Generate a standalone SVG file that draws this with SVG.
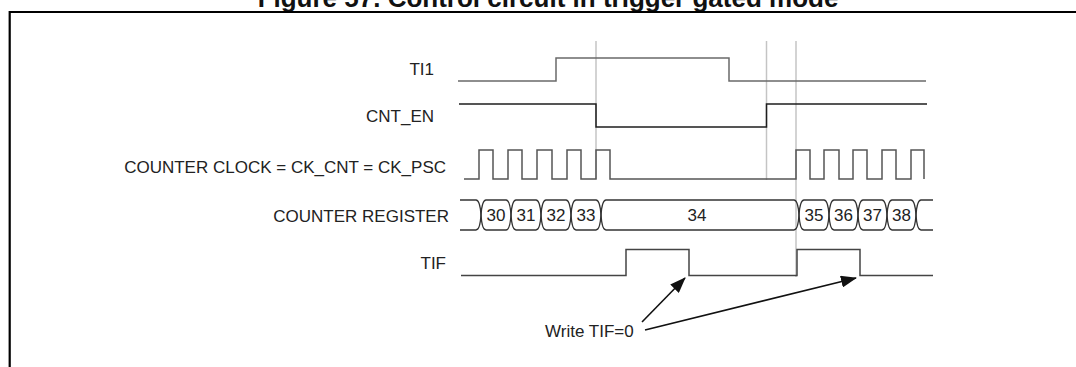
<svg xmlns="http://www.w3.org/2000/svg" width="1076" height="367" viewBox="0 0 1076 367">
<defs>
<style>
.lbl{font-family:"Liberation Sans",Arial,sans-serif;font-size:17px;fill:#222}
.num{font-family:"Liberation Sans",Arial,sans-serif;font-size:17px;fill:#222;text-anchor:middle}
.title{font-family:"Liberation Sans",Arial,sans-serif;font-size:26px;font-weight:bold;fill:#111;text-anchor:middle}
.wave{fill:none;stroke-width:1.5}
.guide{stroke:#c4c4c4;stroke-width:1.5}
.bus{fill:none;stroke:#333;stroke-width:1.3}
.arr{stroke:#111;stroke-width:1.6;fill:none}
</style>
<marker id="ah" viewBox="0 0 16 12" refX="15" refY="6" markerWidth="16" markerHeight="12" markerUnits="userSpaceOnUse" orient="auto">
<path d="M0,0 L16,6 L0,12 z" fill="#111"/>
</marker>
</defs>
<rect width="1076" height="367" fill="#fff"/>
<text class="title" x="548" y="7">Figure 57. Control circuit in trigger gated mode</text>
<path d="M9.7,367 V12 H1076" fill="none" stroke="#000" stroke-width="2.2"/>

<g id="guides">
<line class="guide" x1="596" y1="41" x2="596" y2="179"/>
<line class="guide" x1="766.5" y1="41" x2="766.5" y2="180"/>
<line class="guide" x1="796" y1="41" x2="796" y2="277"/>
</g>

<g id="ti1">
<text class="lbl" x="434" y="75" text-anchor="end">TI1</text>
<path class="wave" stroke="#6a6a6a" d="M458,81 H556 V58 H729 V81 H926"/>
</g>

<g id="cnt_en">
<text class="lbl" x="434" y="121.5" text-anchor="end">CNT_EN</text>
<path class="wave" stroke="#1e1e1e" d="M459,104 H596 V127 H766.5 V104 H927"/>
</g>

<g id="clock">
<text class="lbl" x="446" y="173" text-anchor="end">COUNTER CLOCK = CK_CNT = CK_PSC</text>
<path class="wave" stroke="#555" d="M464,179 H479 V150 H493 V179 H508 V150 H522 V179 H537 V150 H552 V179 H567 V150 H581 V179 H596 V150 H610 V179 H796 V150 H810 V179 H824 V150 H839 V179 H853 V150 H867 V179 H882 V150 H896 V179 H911 V150 H924 V179"/>
</g>

<g id="register">
<text class="lbl" x="449" y="222" text-anchor="end">COUNTER REGISTER</text>
<path class="bus" d="M460,200 H476 Q480,200 481,215 Q482,230 486,230 H506 Q510,230 511,215 Q512,200 516,200 H536 Q540,200 541,215 Q542,230 546,230 H566 Q570,230 571,215 Q572,200 576,200 H596 Q600,200 601,215 Q602,230 606,230 H794 Q798,230 799,215 Q800,200 804,200 H824 Q828,200 829,215 Q830,230 834,230 H853 Q857,230 858,215 Q859,200 863,200 H882 Q886,200 887,215 Q888,230 892,230 H911 Q915,230 916,215 Q917,200 921,200 H933"/>
<path class="bus" d="M460,230 H476 Q480,230 481,215 Q482,200 486,200 H506 Q510,200 511,215 Q512,230 516,230 H536 Q540,230 541,215 Q542,200 546,200 H566 Q570,200 571,215 Q572,230 576,230 H596 Q600,230 601,215 Q602,200 606,200 H794 Q798,200 799,215 Q800,230 804,230 H824 Q828,230 829,215 Q830,200 834,200 H853 Q857,200 858,215 Q859,230 863,230 H882 Q886,230 887,215 Q888,200 892,200 H911 Q915,200 916,215 Q917,230 921,230 H933"/>
<text class="num" x="496" y="221">30</text>
<text class="num" x="526" y="221">31</text>
<text class="num" x="556" y="221">32</text>
<text class="num" x="586" y="221">33</text>
<text class="num" x="697" y="221">34</text>
<text class="num" x="814" y="221">35</text>
<text class="num" x="843.5" y="221">36</text>
<text class="num" x="872.5" y="221">37</text>
<text class="num" x="901.5" y="221">38</text>
</g>

<g id="tif">
<text class="lbl" x="446" y="269" text-anchor="end">TIF</text>
<path class="wave" stroke="#444" d="M461,275.5 H626 V249.5 H689 V275.5 H797 V249.5 H860 V275.5 H933"/>
</g>

<g id="note">
<text class="lbl" x="545" y="337">Write TIF=0</text>
</g>

<g id="connectors">
<line class="arr" x1="642" y1="322" x2="685" y2="278" marker-end="url(#ah)"/>
<line class="arr" x1="645" y1="330" x2="856" y2="278" marker-end="url(#ah)"/>
</g>
</svg>
